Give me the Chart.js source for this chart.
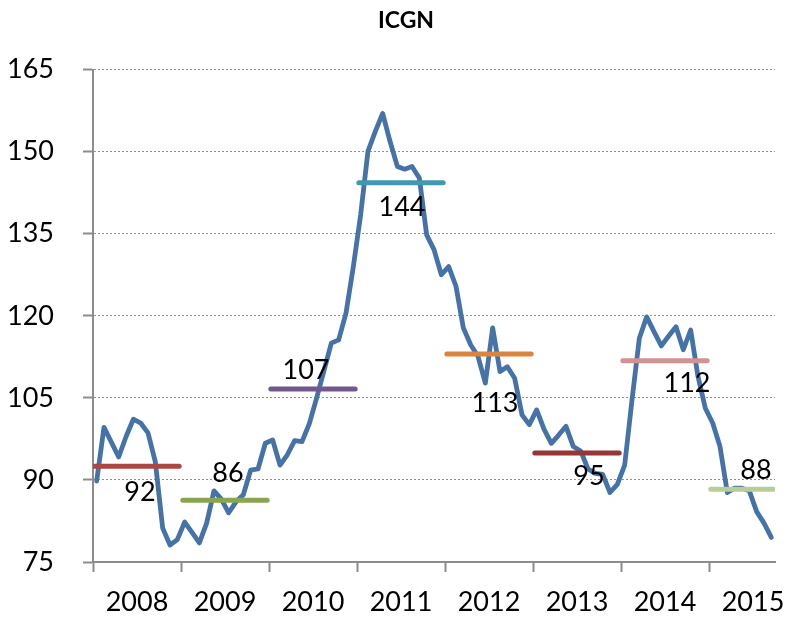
<!DOCTYPE html>
<html>
<head>
<meta charset="utf-8">
<script src="https://cdn.jsdelivr.net/npm/chart.js@4.4.1/dist/chart.umd.min.js"></script>
<style>
  html, body { margin: 0; padding: 0; background: #fff; }
</style>
</head>
<body>
<canvas id="chart" width="790" height="618"></canvas>
<script>
const years = ["2008", "2009", "2010", "2011", "2012", "2013", "2014", "2015"];

// monthly index values, Jan 2008 .. Sep 2015
const icgn = [
  89.8, 99.6, 96.9, 94.2, 97.9, 101.1, 100.4, 98.6, 93.3, 81.2, 78.1, 79.1,
  82.3, 80.4, 78.5, 82.1, 88.0, 86.5, 84.0, 86.0, 87.3, 91.8, 92.0, 96.7,
  97.3, 92.7, 94.6, 97.2, 97.0, 100.3, 105.0, 110.0, 115.0, 115.6, 120.5, 129.0,
  138.5, 150.1, 153.7, 157.0, 151.9, 147.3, 146.8, 147.3, 145.2, 134.8, 132.1, 127.5,
  129.0, 125.4, 117.8, 114.7, 112.6, 107.7, 117.8, 109.8, 110.7, 108.6, 101.9, 100.1,
  102.8, 99.3, 96.7, 98.2, 99.8, 96.1, 95.3, 92.0, 91.2, 91.0, 87.7, 89.2,
  92.7, 104.6, 115.9, 119.8, 117.1, 114.5, 116.3, 118.0, 113.8, 117.4, 108.9, 103.1,
  100.4, 96.1, 87.7, 88.5, 88.5, 88.0, 84.2, 82.1, 79.5
];

// yearly averages and their labels
const yearAvg = [92.5, 86.3, 106.6, 144.3, 113.0, 94.9, 111.8, 88.3];
const avgLabels = ["92", "86", "107", "144", "113", "95", "112", "88"];
const avgColors = ["#ad4643", "#89a54e", "#71588f", "#4198af", "#db843d", "#953735", "#d19392", "#b9cd96"];

// label nudges in px from the year's centre / average line
const labelShift = [[3, 26], [3, -27], [-7, -19], [1, 24], [6, 49], [12, 23], [22, 23], [3, -19]];

const monthsShown = icgn.length; // 93

const datasets = [];
yearAvg.forEach((v, i) => {
  const start = i * 12;
  const end = Math.min(start + 12, monthsShown);
  datasets.push({
    data: [{ x: start + 0.25, y: v }, { x: end - 0.25, y: v }],
    borderColor: avgColors[i],
    borderWidth: 5,
    borderCapStyle: "round",
    pointRadius: 0,
    order: 0,
  });
});
datasets.push({
  data: icgn.map((v, i) => ({ x: i + 0.5, y: v })),
  borderColor: "#4572a7",
  borderWidth: 4.8,
  borderJoinStyle: "round",
  borderCapStyle: "round",
  pointRadius: 0,
  tension: 0,
  order: 1,
});

const avgLabelPlugin = {
  id: "avgLabels",
  afterLayout(chart) {
    // title sits a bit right of the canvas centre in the original
    if (chart.titleBlock) chart.titleBlock.left = 37;
  },
  afterDatasetsDraw(chart) {
    const { ctx, scales: { x, y } } = chart;
    ctx.save();
    ctx.font = "27px Lato";
    ctx.fillStyle = "#000";
    ctx.textAlign = "center";
    ctx.textBaseline = "middle";
    avgLabels.forEach((t, i) => {
      const px = x.getPixelForValue(i * 12 + 6) + labelShift[i][0];
      const py = y.getPixelForValue(yearAvg[i]) + labelShift[i][1];
      ctx.fillText(t, px, py);
    });
    ctx.restore();
  },
};

new Chart(document.getElementById("chart"), {
  type: "line",
  data: { datasets },
  plugins: [avgLabelPlugin],
  options: {
    responsive: false,
    animation: false,
    layout: { padding: { left: 6, right: 15, top: 0, bottom: 0 } },
    plugins: {
      legend: { display: false },
      tooltip: { enabled: false },
      title: {
        display: true,
        text: "ICGN",
        color: "#000",
        font: { family: "Lato", size: 23, weight: "bold" },
        padding: { top: 7, bottom: 35 },
      },
    },
    scales: {
      x: {
        type: "linear",
        min: 0,
        max: monthsShown,
        afterBuildTicks: (s) => {
          s.ticks = [];
          for (let v = 0; v <= 90; v += 6) s.ticks.push({ value: v });
        },
        afterFit: (s) => {
          s.height = 56;
          s.paddingLeft = 0;
          s.paddingRight = 0;
        },
        ticks: {
          autoSkip: false,
          maxRotation: 0,
          padding: 14,
          color: "#000",
          font: { family: "Lato", size: 27 },
          callback: (v) => (v % 12 === 6 ? years[(v - 6) / 12] : ""),
        },
        grid: {
          drawOnChartArea: false,
          tickLength: 10,
          tickWidth: 2,
          tickColor: (c) => (c.tick && c.tick.value % 12 === 0 ? "#8c8c8c" : "rgba(0,0,0,0)"),
        },
        border: { color: "#8c8c8c", width: 2 },
      },
      y: {
        min: 75,
        max: 165,
        afterFit: (s) => { s.width = 87; },
        ticks: {
          stepSize: 15,
          padding: 29,
          color: "#000",
          font: { family: "Lato", size: 27 },
        },
        grid: {
          color: "#8f8f8f",
          lineWidth: 1,
          tickLength: 10,
          tickWidth: 2,
          tickColor: "#8c8c8c",
          tickBorderDash: [],
        },
        border: { color: "#8c8c8c", width: 2, dash: [2, 2] },
      },
    },
  },
});
</script>
</body>
</html>
